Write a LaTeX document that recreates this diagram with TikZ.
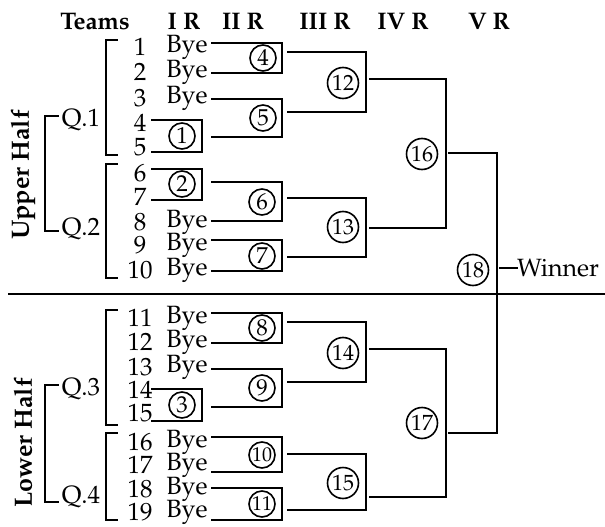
\documentclass[tikz,border=0pt]{standalone}
\usepackage[T1]{fontenc}
\usepackage{mathpazo}
\tikzset{
  ln/.style={line width=1.8pt, line cap=rect, line join=miter},
  txt/.style={font=\fontsize{25}{26}\selectfont, inner sep=0pt},
  hdr/.style={font=\fontsize{24}{26}\selectfont\bfseries, inner sep=0pt},
  half/.style={font=\fontsize{25}{28}\selectfont\bfseries, inner sep=0pt, rotate=90},
  cs/.style={draw, circle, line width=1.6pt, inner sep=0pt, minimum size=26pt, font=\fontsize{23}{24}\selectfont},
  cd/.style={draw, circle, line width=1.6pt, inner sep=0pt, minimum size=31pt, font=\fontsize{22}{23}\selectfont},
}
\begin{document}
\begin{tikzpicture}[x=1pt,y=-1pt]
\useasboundingbox (0,0) rectangle (605,527);
% headers
\node[hdr] (hT) at (95,22) {Teams};
\node[hdr] (h1) at (184,22) {I R};
\node[hdr] (h2) at (243,22) {II R};
\node[hdr] (h3) at (325,22) {III R};
\node[hdr] (h4) at (403,22) {IV R};
\node[hdr] (h5) at (489,22) {V R};
% team numbers
\foreach \n/\y in {1/47,2/72,3/98,4/123,5/147,6/173,7/197,8/222,9/245,10/270,11/318,12/342,13/367,14/390,15/413,16/442,17/465,18/489,19/512}
  \node[txt] (t\n) at (140,\y) {\n};
% byes
\foreach \n/\y in {1/47,2/72,3/98,8/222,9/245,10/270,11/318,12/342,13/367,16/442,17/465,18/489,19/512}
  \node[txt] (b\n) at (187,\y) {Bye};
% quarter labels
\node[txt] (q1) at (81,120) {Q.1};
\node[txt] (q2) at (81,229) {Q.2};
\node[txt] (q3) at (81,389) {Q.3};
\node[txt] (q4) at (81,497) {Q.4};
\node[half] (uh) at (23,175) {Upper Half};
\node[half] (lh) at (23,443) {Lower Half};
% brackets
\draw[ln] (58,116) -- (45,116) -- (45,231) -- (58,231);
\draw[ln] (58,385) -- (45,385) -- (45,502) -- (58,502);
\draw[ln] (117,40) -- (106,40) -- (106,155) -- (117,155);
\draw[ln] (117,164) -- (106,164) -- (106,278) -- (117,278);
\draw[ln] (117,310) -- (106,310) -- (106,425) -- (117,425);
\draw[ln] (117,433) -- (106,433) -- (106,520) -- (117,520);
% divider
\draw[ln] (9,294) -- (605,294);
% round I boxes
\draw[ln] (152,120) -- (202,120) -- (202,152) -- (152,152);
\draw[ln] (152,169) -- (202,169) -- (202,200) -- (152,200);
\draw[ln] (152,389) -- (202,389) -- (202,421) -- (152,421);
\node[cs] (c1) at (182,136) {1};
\node[cs] (c2) at (182,184) {2};
\node[cs] (c3) at (182,405) {3};
% round II boxes
\foreach \a/\b in {43/73,99/137,182/221,240/271,313/343,369/407,437/472,488/520}
  \draw[ln] (212,\a) -- (282,\a) -- (282,\b) -- (212,\b);
\node[cs] (c4) at (263,58) {4};
\node[cs] (c5) at (263,118) {5};
\node[cs] (c6) at (262,202) {6};
\node[cs] (c7) at (262,256) {7};
\node[cs] (c8) at (262,328) {8};
\node[cs] (c9) at (262,388) {9};
\node[cs, font=\fontsize{20}{21}\selectfont] (c10) at (262,455) {10};
\node[cs, font=\fontsize{20}{21}\selectfont] (c11) at (262,504) {11};
% round III boxes
\foreach \a/\b in {52/112,198/257,322/382,454/510}
  \draw[ln] (288,\a) -- (366,\a) -- (366,\b) -- (288,\b);
\node[cd] (c12) at (343,83) {12};
\node[cd] (c13) at (343,227) {13};
\node[cd] (c14) at (343,353) {14};
\node[cd] (c15) at (343,483) {15};
% round IV
\draw[ln] (370,79) -- (446,79) -- (446,228) -- (370,228);
\draw[ln] (370,349) -- (446,349) -- (446,497) -- (370,497);
\node[cd] (c16) at (422,154) {16};
\node[cd] (c17) at (422,423) {17};
% round V
\draw[ln] (449,153) -- (497,153) -- (497,433) -- (449,433);
\node[cd] (c18) at (473,270) {18};
\node[txt, anchor=west] (win) at (517,268) {Winner};
\draw[ln] (500,268) -- (win.west);
\end{tikzpicture}
\end{document}
